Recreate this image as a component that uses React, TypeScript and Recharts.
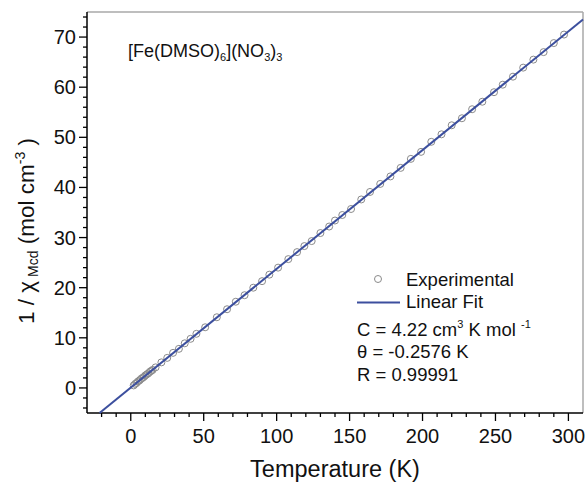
import {
  ComposedChart,
  Scatter,
  XAxis,
  YAxis,
  ReferenceLine,
} from "recharts";

// measured points: temperature (K) and 1/chi (mol cm^-3)
const temps = [
  2, 3, 4, 5, 6, 7, 8, 9, 10, 11, 12, 13, 14, 15, 17, 21, 25, 29, 33, 37, 41,
  45, 51, 59, 66, 72, 78, 84, 90, 95, 101, 108, 114, 119, 124, 130, 136, 140,
  145, 151, 158, 164, 171, 178, 185, 192, 199, 206, 213, 220, 227, 234, 241,
  249, 255, 262, 269, 276, 283, 290, 297,
];
const chiInv = [
  0.5, 0.8, 1.0, 1.3, 1.5, 1.8, 2.0, 2.2, 2.5, 2.7, 2.9, 3.2, 3.4, 3.6, 4.1,
  5.1, 6.0, 7.0, 7.8, 8.9, 9.8, 10.8, 12.1, 14.1, 15.7, 17.2, 18.5, 20.0, 21.3,
  22.6, 24.0, 25.7, 27.1, 28.3, 29.3, 30.9, 32.2, 33.4, 34.5, 35.7, 37.6, 39.1,
  40.7, 42.2, 43.9, 45.7, 47.1, 49.1, 50.6, 52.4, 53.8, 55.6, 57.1, 59.0, 60.5,
  62.1, 63.9, 65.5, 67.0, 68.8, 70.5,
];

// linear fit end points
const fitT = [-21.4, 310];
const fitV = [-5, 73.52];

const xTicks = [
  -20, -10, 0, 10, 20, 30, 40, 50, 60, 70, 80, 90, 100, 110, 120, 130, 140,
  150, 160, 170, 180, 190, 200, 210, 220, 230, 240, 250, 260, 270, 280, 290,
  300,
];
const yTicks = [
  -4, -2, 0, 2, 4, 6, 8, 10, 12, 14, 16, 18, 20, 22, 24, 26, 28, 30, 32, 34,
  36, 38, 40, 42, 44, 46, 48, 50, 52, 54, 56, 58, 60, 62, 64, 66, 68, 70, 72,
  74,
];

const expData = temps.map((t, i) => ({ t, v: chiInv[i] }));
const fitData = fitT.map((t, i) => ({ t, v: fitV[i] }));

const FONT = "'Liberation Sans', Arial, sans-serif";
const BLUE = "#3c4f9e";
const GRAY = "#8a8a8a";

const XTick = (props: any) => {
  const { x, y, payload } = props;
  const v = payload.value;
  const major = v % 50 === 0;
  return (
    <g>
      <line x1={x} x2={x} y1={y} y2={y + (major ? 8 : 4)} stroke="#000" strokeWidth={1.3} />
      {major && (
        <text x={x} y={y + 30} textAnchor="middle" fontSize={20} fontFamily={FONT} fill="#111">
          {v}
        </text>
      )}
    </g>
  );
};

const YTick = (props: any) => {
  const { x, y, payload } = props;
  const v = payload.value;
  const major = v % 10 === 0;
  return (
    <g>
      <line x1={x} x2={x - (major ? 8 : 4)} y1={y} y2={y} stroke="#000" strokeWidth={1.3} />
      {major && (
        <text x={x - 11} y={y + 7} textAnchor="end" fontSize={20} fontFamily={FONT} fill="#111">
          {v}
        </text>
      )}
    </g>
  );
};

const Circle = (props: any) => (
  <circle cx={props.cx} cy={props.cy} r={3.5} fill="none" stroke={GRAY} strokeWidth={1} />
);

export default function App() {
  return (
    <div style={{ position: "absolute", left: 0, top: 0, width: 585, height: 485, background: "#fff" }}>
      <ComposedChart
        width={585}
        height={485}
        margin={{ top: 12, right: 2, left: 0, bottom: 0 }}
      >
        <XAxis
          type="number"
          dataKey="t"
          domain={[-30, 310]}
          ticks={xTicks}
          interval={0}
          height={72}
          tickSize={0}
          tickMargin={0}
          tickLine={false}
          tick={<XTick />}
          axisLine={{ stroke: "#000", strokeWidth: 1.5 }}
        />
        <YAxis
          type="number"
          dataKey="v"
          domain={[-5, 75]}
          ticks={yTicks}
          interval={0}
          width={87}
          tickSize={0}
          tickMargin={0}
          tickLine={false}
          tick={<YTick />}
          axisLine={{ stroke: "#000", strokeWidth: 1.5 }}
        />
        <ReferenceLine y={75} stroke="#a8a8a8" strokeWidth={1.5} />
        <ReferenceLine x={310} stroke="#a8a8a8" strokeWidth={1.5} />
        <Scatter data={expData} shape={<Circle />} isAnimationActive={false} />
        <Scatter
          data={fitData}
          line={{ stroke: BLUE, strokeWidth: 2 }}
          shape={() => <g />}
          isAnimationActive={false}
        />
      </ComposedChart>
      <svg
        width={585}
        height={485}
        style={{ position: "absolute", left: 0, top: 0, pointerEvents: "none" }}
        fontFamily={FONT}
      >
        <text x={128} y={57} fontSize={18} fill="#111">
          [Fe(DMSO)
          <tspan fontSize={11} dy={4}>6</tspan>
          <tspan dy={-4}>](NO</tspan>
          <tspan fontSize={11} dy={4}>3</tspan>
          <tspan dy={-4}>)</tspan>
          <tspan fontSize={11} dy={4}>3</tspan>
        </text>

        <text transform="translate(34,231) rotate(-90)" textAnchor="middle" fontSize={22.5} fill="#111">
          1 / χ
          <tspan fontSize={14} dy={4}> Mcd</tspan>
          <tspan dy={-4}> (mol cm</tspan>
          <tspan fontSize={14} dy={-9}>-3</tspan>
          <tspan dy={9}> )</tspan>
        </text>

        <text x={335} y={477} textAnchor="middle" fontSize={23.5} fill="#111">
          Temperature (K)
        </text>

        <circle cx={378} cy={279} r={3.5} fill="none" stroke={GRAY} strokeWidth={1} />
        <text x={406} y={286} fontSize={18.5} fill="#111">Experimental</text>
        <line x1={357} x2={400} y1={302.5} y2={302.5} stroke={BLUE} strokeWidth={2} />
        <text x={406} y={308} fontSize={18.5} fill="#111">Linear Fit</text>
        <text x={357} y={336} fontSize={18.5} fill="#111">
          C = 4.22 cm
          <tspan fontSize={11} dy={-8}>3</tspan>
          <tspan dy={8}> K mol </tspan>
          <tspan fontSize={11} dy={-8}>-1</tspan>
        </text>
        <text x={357} y={358} fontSize={18.5} fill="#111">θ = -0.2576 K</text>
        <text x={357} y={381} fontSize={18.5} fill="#111">R = 0.99991</text>
      </svg>
    </div>
  );
}
